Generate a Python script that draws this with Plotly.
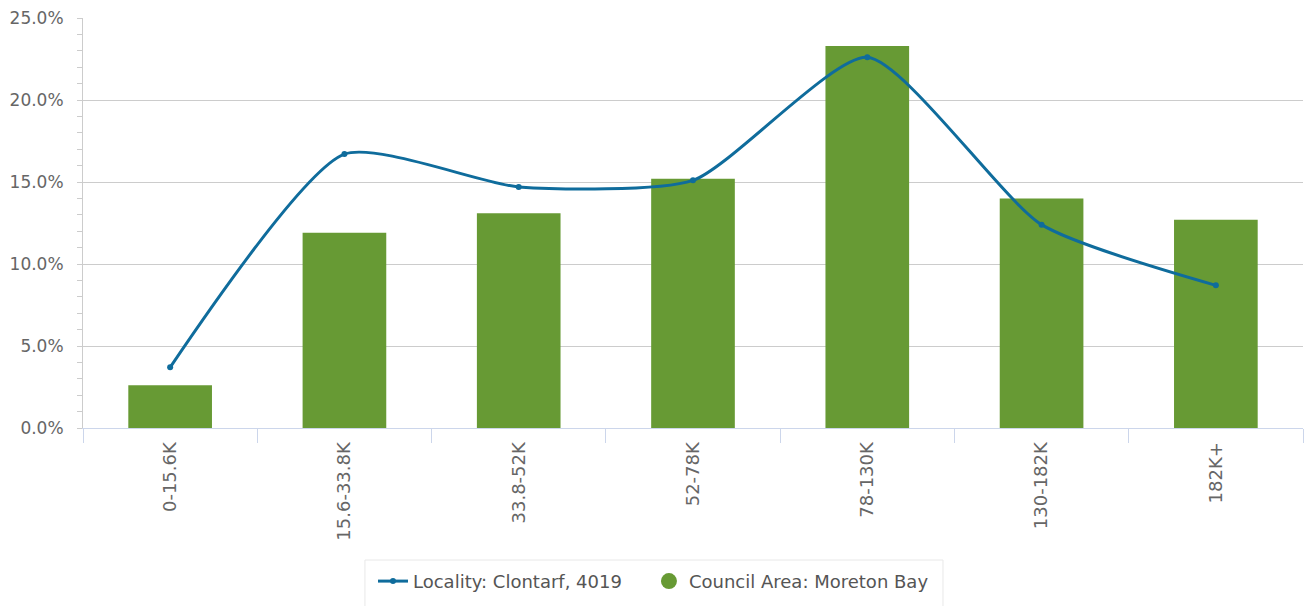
import plotly.graph_objects as go

# income bands and shares (%)
categories = ['0-15.6K', '15.6-33.8K', '33.8-52K', '52-78K', '78-130K', '130-182K', '182K+']
council_pct = [2.6, 11.9, 13.1, 15.2, 23.3, 14.0, 12.7]
locality_pct = [3.7, 16.7, 14.7, 15.1, 22.6, 12.4, 8.7]

GREEN = '#679a34'
BLUE = '#0f6c9c'
GRID = '#cccccc'
TEXT = '#666666'

fig = go.Figure()

fig.add_trace(go.Bar(
    x=categories,
    y=council_pct,
    name='Council Area: Moreton Bay',
    marker=dict(color=GREEN, line=dict(width=0)),
    showlegend=False,
))

fig.add_trace(go.Scatter(
    x=categories,
    y=locality_pct,
    mode='lines+markers',
    name='Locality: Clontarf, 4019',
    line=dict(color=BLUE, width=3, shape='spline', smoothing=0.6),
    marker=dict(color=BLUE, size=6),
    legend='legend',
))

# legend entry for the bars drawn as a circle
fig.add_trace(go.Scatter(
    x=[None],
    y=[None],
    mode='markers',
    name='Council Area: Moreton Bay',
    marker=dict(color=GREEN, size=17, symbol='circle'),
    legend='legend2',
))

legend_style = dict(
    orientation='h',
    xanchor='left',
    y=-0.329,
    yanchor='top',
    bgcolor='rgba(0,0,0,0)',
    borderwidth=0,
    font=dict(size=18, color='#555555'),
    itemwidth=30,
)

# frame around the legend
fig.add_shape(
    type='rect', xref='paper', yref='paper',
    x0=0.2311, x1=0.7049, y0=-0.46, y1=-0.322,
    line=dict(color='#e8e8e8', width=1),
    fillcolor='rgba(0,0,0,0)',
)

fig.update_layout(
    width=1306,
    height=606,
    autosize=False,
    margin=dict(l=83, r=3, t=18, b=178),
    paper_bgcolor='white',
    plot_bgcolor='white',
    font=dict(family='DejaVu Sans, Verdana, sans-serif', size=17, color=TEXT),
    bargap=0.52,
    showlegend=True,
    legend=dict(x=0.2377, **legend_style),
    legend2=dict(x=0.4639, **legend_style),
    xaxis=dict(
        type='category',
        tickangle=-90,
        tickson='boundaries',
        ticks='outside',
        ticklen=14,
        tickcolor='#ccd6eb',
        showline=True,
        linecolor='#ccd6eb',
        showgrid=False,
        ticklabelstandoff=6,
        tickfont=dict(size=18, color=TEXT),
    ),
    yaxis=dict(
        range=[0, 25],
        dtick=5,
        tickformat='.1f',
        ticksuffix='%',
        showgrid=True,
        gridcolor=GRID,
        gridwidth=1,
        zeroline=False,
        showline=True,
        linecolor=GRID,
        ticks='outside',
        ticklen=5,
        tickcolor=GRID,
        ticklabelstandoff=10,
        minor=dict(dtick=1, ticks='outside', ticklen=5, tickcolor=GRID, showgrid=False),
        tickfont=dict(size=17, color=TEXT),
    ),
)

fig.write_html(
    'out.html',
    config={'displayModeBar': False},
    post_script="document.body.style.margin='0';"
                "Plotly.relayout('{plot_id}', {width: 1306, height: 606});",
)
